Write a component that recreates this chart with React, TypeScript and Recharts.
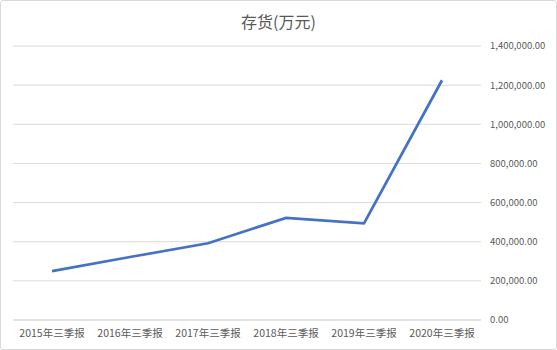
import { CartesianGrid, Line, LineChart, XAxis, YAxis } from "recharts";

const periods = [
  "2015年三季报",
  "2016年三季报",
  "2017年三季报",
  "2018年三季报",
  "2019年三季报",
  "2020年三季报",
];
const inventory = [250000, 322000, 392000, 522000, 494000, 1225000];
const yTicks = [0, 200000, 400000, 600000, 800000, 1000000, 1200000, 1400000];

const data = periods.map((period, i) => ({ period, inventory: inventory[i] }));

const fmt = (v: number) =>
  v.toLocaleString("en-US", { minimumFractionDigits: 2, maximumFractionDigits: 2 });

const FONT = '"Noto Sans CJK SC", "Noto Sans", sans-serif';

export default function App() {
  return (
    <>
      <style>{"body{margin:0}"}</style>
      <div
        style={{
          position: "relative",
          width: 557,
          height: 350,
          boxSizing: "border-box",
          border: "1px solid #d9d9d9",
          borderRadius: 3,
          background: "#fff",
          fontFamily: FONT,
        }}
      >
        <div
          style={{
            position: "absolute",
            top: 8,
            left: 0,
            width: "100%",
            textAlign: "center",
            fontSize: 16,
            color: "#595959",
            lineHeight: "24px",
          }}
        >
          存货(万元)
        </div>
        <LineChart
          width={555}
          height={348}
          data={data}
          margin={{ top: 45, right: 0, bottom: 0, left: 12 }}
          style={{ position: "absolute", top: 0, left: 0 }}
        >
          <CartesianGrid vertical={false} stroke="#d9d9d9" />
          <XAxis
            dataKey="period"
            height={29}
            padding={{ left: 39, right: 39 }}
            tickLine={false}
            tickSize={0}
            tickMargin={10}
            axisLine={{ stroke: "#d9d9d9" }}
            tick={{ fontSize: 10.5, fill: "#595959", fontFamily: FONT }}
            interval={0}
          />
          <YAxis
            orientation="right"
            width={75}
            domain={[0, 1400000]}
            ticks={yTicks}
            tickLine={false}
            tickSize={0}
            tickMargin={9}
            axisLine={false}
            tickFormatter={(v: number) => fmt(Number(v))}
            tick={{ fontSize: 9.5, fill: "#595959", fontFamily: FONT, textAnchor: "start" }}
          />
          <Line
            type="linear"
            dataKey="inventory"
            stroke="#4472c4"
            strokeWidth={2.75}
            dot={false}
            isAnimationActive={false}
          />
        </LineChart>
      </div>
    </>
  );
}
